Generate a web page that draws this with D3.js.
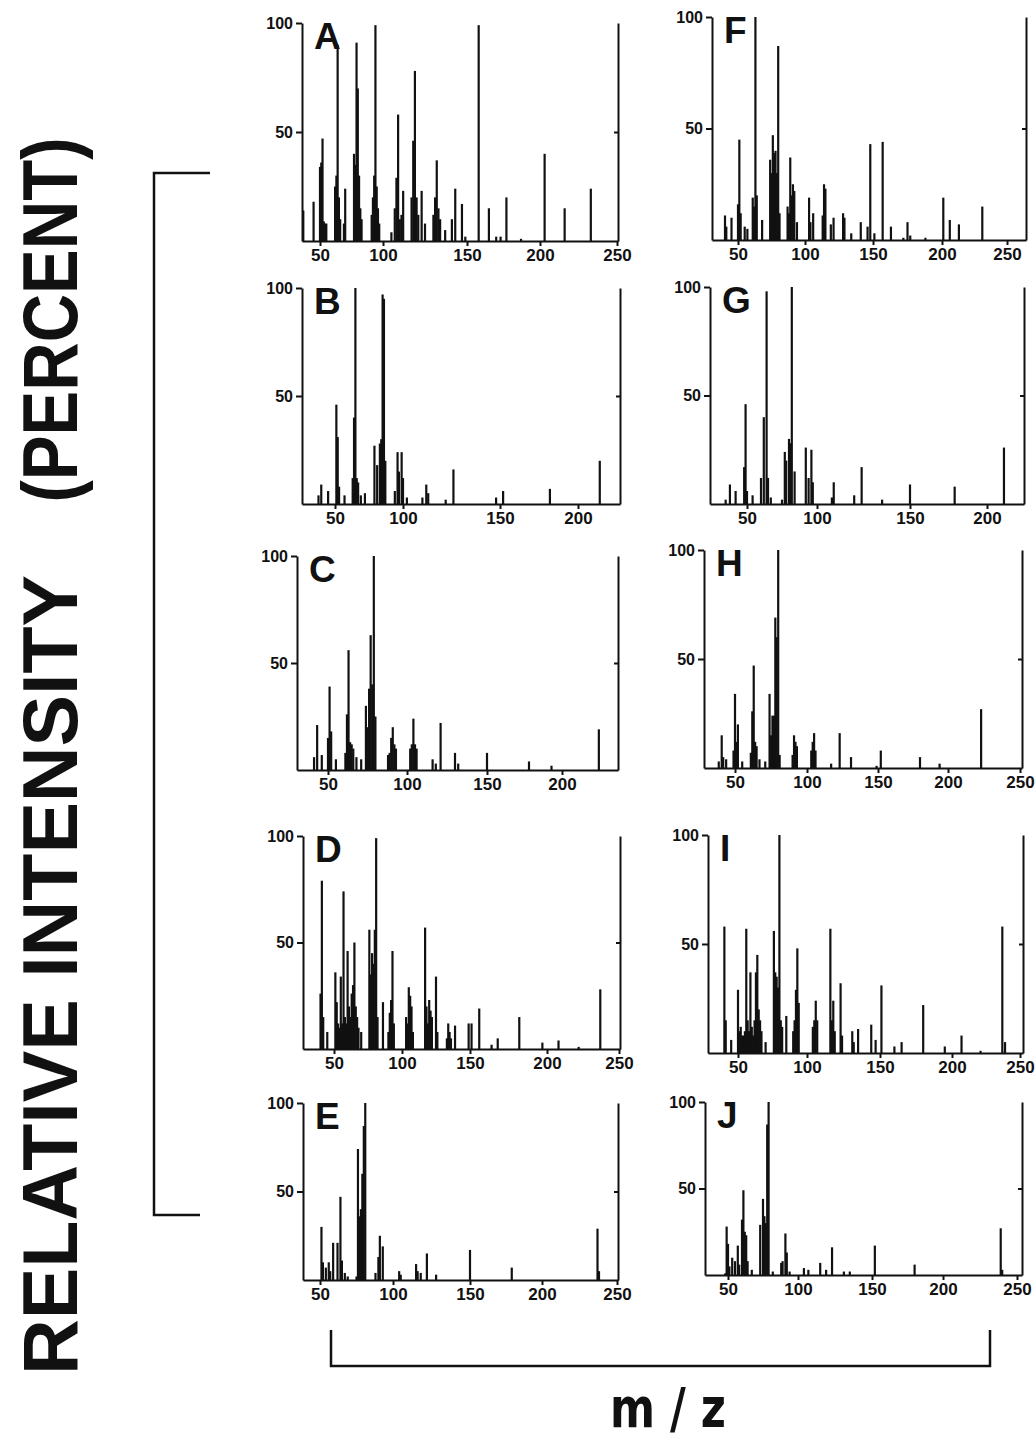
<!DOCTYPE html>
<html>
<head>
<meta charset="utf-8">
<script src="https://cdn.jsdelivr.net/npm/d3@7"></script>
<style>
  body { margin: 0; background: #fff; }
  svg { display: block; }
  .axis path, .axis line { stroke: #111; stroke-width: 2; }
  .axis text { font-family: "Liberation Sans", Arial, sans-serif; font-weight: bold; fill: #111; }
</style>
</head>
<body>
<svg id="fig" width="1035" height="1441"></svg>
<script>
// panel letters, in reading order (left column A-E, right column F-J)
const panelIds = ['A', 'B', 'C', 'D', 'E', 'F', 'G', 'H', 'I', 'J'];

// tick labels
const yTicks = [50, 100];
const ticks250 = [50, 100, 150, 200, 250];
const ticks200 = [50, 100, 150, 200];

// spectra: [m/z, relative intensity %]
const peaksA = [[37,14],[45,18],[50,34],[51,36],[52,47],[53,9],[54,8],[55,8],[62,25],[63,30],[64,90],[65,20],[66,10],[69,8],[70,24],
  [77,40],[78,35],[79,91],[80,70],[81,30],[82,15],[83,10],[91,12],[92,20],[93,30],[94,99],[95,25],[96,15],[97,8],[105,4],[107,15],[108,29],
  [109,58],[110,10],[111,12],[112,23],[117,20],[118,46],[119,78],[120,20],[121,12],[123,23],[125,8],[130,12],[131,20],[132,37],[133,15],
  [134,10],[137,5],[141,10],[143,24],[147,17],[149,2],[158,99],[165,15],[170,2],[173,2],[177,20],[187,1],[203,40],[216,15],[233,24]];
const peaksB = [[38,4],[40,9],[45,6],[51,46],[52,31],[53,8],[57,4],[63,12],[64,40],[65,100],[66,12],[67,10],[69,4],[72,5],[79,27],[81,18],
  [83,28],[84,30],[85,97],[86,95],[87,20],[94,6],[96,24],[97,15],[99,24],[100,12],[102,3],[110,3],[112,9],[113,5],[122,2],[126,16],
  [148,3],[152,6],[182,7],[214,20]];
const peaksC = [[41,6],[43,21],[46,7],[50,15],[51,39],[52,18],[55,5],[61,8],[62,26],[63,56],[64,13],[65,12],[66,10],[68,6],[71,5],[74,30],
  [75,20],[76,38],[77,63],[78,40],[79,100],[80,25],[88,7],[89,8],[90,15],[91,20],[92,12],[93,10],[102,10],[103,12],[104,24],[105,12],
  [106,10],[116,5],[118,3],[121,22],[130,8],[132,3],[150,8],[178,4],[193,2],[225,19]];
const peaksD = [[40,26],[41,79],[42,15],[45,8],[51,36],[52,22],[53,12],[54,10],[55,34],[56,12],[57,74],[58,15],[59,12],[60,46],[61,20],
  [62,15],[63,26],[64,30],[65,50],[66,20],[67,15],[68,10],[70,8],[76,56],[77,35],[78,45],[79,40],[80,56],[81,99],[82,15],[86,22],[90,8],
  [91,17],[92,23],[93,46],[94,12],[103,15],[104,12],[105,29],[106,25],[107,20],[108,8],[117,57],[118,20],[119,12],[120,23],[121,18],
  [122,15],[125,34],[126,8],[133,5],[134,12],[135,8],[136,5],[139,11],[149,12],[151,12],[156,19],[164,2],[168,5],[182,15],[197,3],
  [208,4],[222,1],[237,28]];
const peaksE = [[51,30],[52,10],[54,7],[56,10],[57,5],[59,21],[62,21],[64,47],[65,11],[67,4],[69,2],[75,2],[76,74],[77,36],[78,40],
  [79,60],[80,87],[81,100],[88,4],[90,13],[91,25],[93,19],[104,5],[105,3],[115,9],[116,5],[118,4],[122,15],[128,3],[150,17],[179,7],
  [237,29],[238,5]];
const peaksF = [[40,11],[41,6],[45,10],[50,16],[51,45],[52,12],[55,6],[57,5],[61,19],[62,15],[63,100],[64,20],[68,9],[74,36],[75,30],
  [76,47],[77,39],[78,40],[79,30],[80,87],[81,12],[87,15],[88,12],[89,37],[90,20],[91,25],[92,22],[94,8],[103,19],[104,8],[106,12],
  [113,11],[114,25],[115,23],[119,7],[121,10],[128,12],[129,10],[134,3],[141,8],[146,6],[148,43],[151,3],[157,44],[163,6],[172,1],
  [175,8],[177,2],[188,1],[201,19],[206,9],[213,7],[231,15]];
const peaksG = [[35,2],[38,9],[42,6],[48,17],[49,46],[50,6],[54,4],[60,12],[62,40],[64,98],[65,12],[67,3],[75,2],[77,24],[78,20],
  [80,30],[81,28],[82,100],[84,15],[92,26],[94,12],[96,25],[97,10],[108,3],[109,10],[120,4],[124,17],[135,2],[150,9],[179,8],[211,26]];
const peaksH = [[39,3],[41,15],[42,5],[44,4],[49,8],[50,34],[51,12],[52,20],[55,3],[61,7],[62,26],[63,47],[64,12],[65,10],[67,4],
  [71,3],[74,34],[75,15],[76,24],[77,24],[78,69],[79,60],[80,100],[81,6],[90,6],[91,15],[92,12],[93,10],[103,8],[104,12],[105,16],
  [106,8],[117,2],[123,16],[131,5],[149,1],[152,8],[180,5],[194,2],[223,27]];
const peaksI = [[40,58],[41,15],[45,6],[50,29],[51,10],[52,12],[53,8],[54,8],[55,10],[56,57],[57,15],[58,10],[59,37],[60,12],[61,8],
  [62,15],[63,37],[64,45],[65,20],[66,15],[67,10],[70,5],[76,56],[77,37],[78,35],[79,30],[80,100],[81,15],[82,12],[85,17],[90,10],
  [91,15],[92,29],[93,48],[94,23],[104,12],[105,15],[106,24],[107,15],[116,57],[117,15],[118,24],[119,10],[123,32],[124,8],[131,10],
  [132,5],[135,11],[144,13],[147,6],[151,31],[160,3],[165,5],[180,22],[195,3],[207,8],[221,1],[237,58],[239,5]];
const peaksJ = [[48,1],[49,28],[50,18],[51,5],[53,10],[55,8],[57,17],[58,6],[60,32],[61,49],[62,25],[63,23],[64,8],[67,3],[73,29],
  [75,44],[76,34],[77,30],[78,87],[79,100],[82,2],[88,7],[89,8],[91,24],[92,13],[94,2],[104,4],[107,3],[115,7],[119,3],[123,16],
  [131,2],[135,2],[152,17],[180,6],[239,27],[240,3]];

const peakData = {A: peaksA, B: peaksB, C: peaksC, D: peaksD, E: peaksE, F: peaksF, G: peaksG, H: peaksH, I: peaksI, J: peaksJ};
const tickData = {A: ticks250, B: ticks200, C: ticks200, D: ticks250, E: ticks250,
                  F: ticks250, G: ticks200, H: ticks250, I: ticks250, J: ticks250};

// panel boxes (pixels). lo/hi = m/z at the left and right frame lines,
// stops = pixel of each labelled tick (the scanned axes are not quite even)
const layout = {
  A: {x0: 302, x1: 618, y0: 241, y1: 23, lo: 36, hi: 251, stops: [320, 383, 467, 540, 617]},
  B: {x0: 302, x1: 620, y0: 504, y1: 288, lo: 26, hi: 227, stops: [335, 403, 500, 578]},
  C: {x0: 297, x1: 618, y0: 770, y1: 556, lo: 30, hi: 238, stops: [328, 407, 487, 562]},
  D: {x0: 303, x1: 620, y0: 1049, y1: 836, lo: 27, hi: 251, stops: [334, 402, 470, 547, 619]},
  E: {x0: 303, x1: 618, y0: 1280, y1: 1103, lo: 38.6, hi: 251, stops: [320, 393, 470, 542, 617]},
  F: {x0: 712, x1: 1026, y0: 240, y1: 17, lo: 30, hi: 265, stops: [738, 805, 873, 942, 1007]},
  G: {x0: 710, x1: 1024, y0: 504, y1: 287, lo: 24, hi: 224, stops: [747, 817, 910, 987]},
  H: {x0: 704, x1: 1022, y0: 768, y1: 550, lo: 29, hi: 252, stops: [735, 807, 878, 948, 1020]},
  I: {x0: 708, x1: 1023, y0: 1053, y1: 835, lo: 28, hi: 252, stops: [738, 807, 880, 952, 1020]},
  J: {x0: 705, x1: 1022, y0: 1275, y1: 1102, lo: 33, hi: 253, stops: [728, 798, 872, 943, 1017]}
};

const svg = d3.select('#fig');
const ink = '#111';

panelIds.forEach(id => {
  const b = layout[id];
  const ticks = tickData[id];
  const x = d3.scaleLinear().domain([b.lo, ...ticks, b.hi]).range([b.x0, ...b.stops, b.x1]);
  const y = d3.scaleLinear().domain([0, 100]).range([b.y0, b.y1]);
  const g = svg.append('g').attr('class', 'panel');

  const xAxis = g.append('g').attr('class', 'axis')
    .attr('transform', `translate(0,${b.y0})`)
    .call(d3.axisBottom(x).tickValues(ticks).tickSize(5).tickSizeOuter(0).tickPadding(3).tickFormat(d3.format('d')));
  xAxis.selectAll('text').attr('font-size', 17);

  const yAxis = g.append('g').attr('class', 'axis')
    .attr('transform', `translate(${b.x0},0)`)
    .call(d3.axisLeft(y).tickValues(yTicks).tickSize(6).tickSizeOuter(0).tickPadding(3));
  yAxis.selectAll('text').attr('font-size', 16);

  // right frame line
  g.append('g').attr('class', 'axis')
    .attr('transform', `translate(${b.x1},0)`)
    .call(d3.axisLeft(y).tickValues([50]).tickSize(4).tickSizeOuter(0).tickFormat(''));

  g.selectAll('line.peak')
    .data(peakData[id])
    .join('line')
    .attr('class', 'peak')
    .attr('x1', d => x(d[0]))
    .attr('x2', d => x(d[0]))
    .attr('y1', y(0))
    .attr('y2', d => y(d[1]))
    .attr('stroke', ink)
    .attr('stroke-width', 2.2);

  g.append('text')
    .attr('x', b.x0 + 12)
    .attr('y', b.y1 + 26)
    .attr('font-family', '"Liberation Sans", Arial, sans-serif')
    .attr('font-weight', 'bold')
    .attr('font-size', 37)
    .attr('fill', ink)
    .text(id);
});

// y title
const title = svg.append('g')
  .attr('font-family', '"Liberation Sans", Arial, sans-serif')
  .attr('font-weight', 'bold')
  .attr('font-size', 78)
  .attr('fill', ink)
  .attr('text-anchor', 'middle');
title.append('text')
  .attr('transform', 'translate(77,975) rotate(-90)')
  .attr('textLength', 800)
  .attr('lengthAdjust', 'spacingAndGlyphs')
  .text('RELATIVE INTENSITY');
title.append('text')
  .attr('transform', 'translate(77,320) rotate(-90)')
  .attr('textLength', 365)
  .attr('lengthAdjust', 'spacingAndGlyphs')
  .text('(PERCENT)');

// brackets
svg.append('path')
  .attr('d', 'M210,173 H154 V1215 H200')
  .attr('fill', 'none').attr('stroke', ink).attr('stroke-width', 2.5);
svg.append('path')
  .attr('d', 'M331,1330 V1366 H990 V1330')
  .attr('fill', 'none').attr('stroke', ink).attr('stroke-width', 2.5);

svg.append('text')
  .attr('x', 668)
  .attr('y', 1427)
  .attr('text-anchor', 'middle')
  .attr('font-family', '"DejaVu Sans", sans-serif')
  .attr('font-weight', 'bold')
  .attr('font-size', 56)
  .attr('textLength', 116)
  .attr('lengthAdjust', 'spacingAndGlyphs')
  .attr('fill', ink)
  .text('m / z');
</script>
</body>
</html>
